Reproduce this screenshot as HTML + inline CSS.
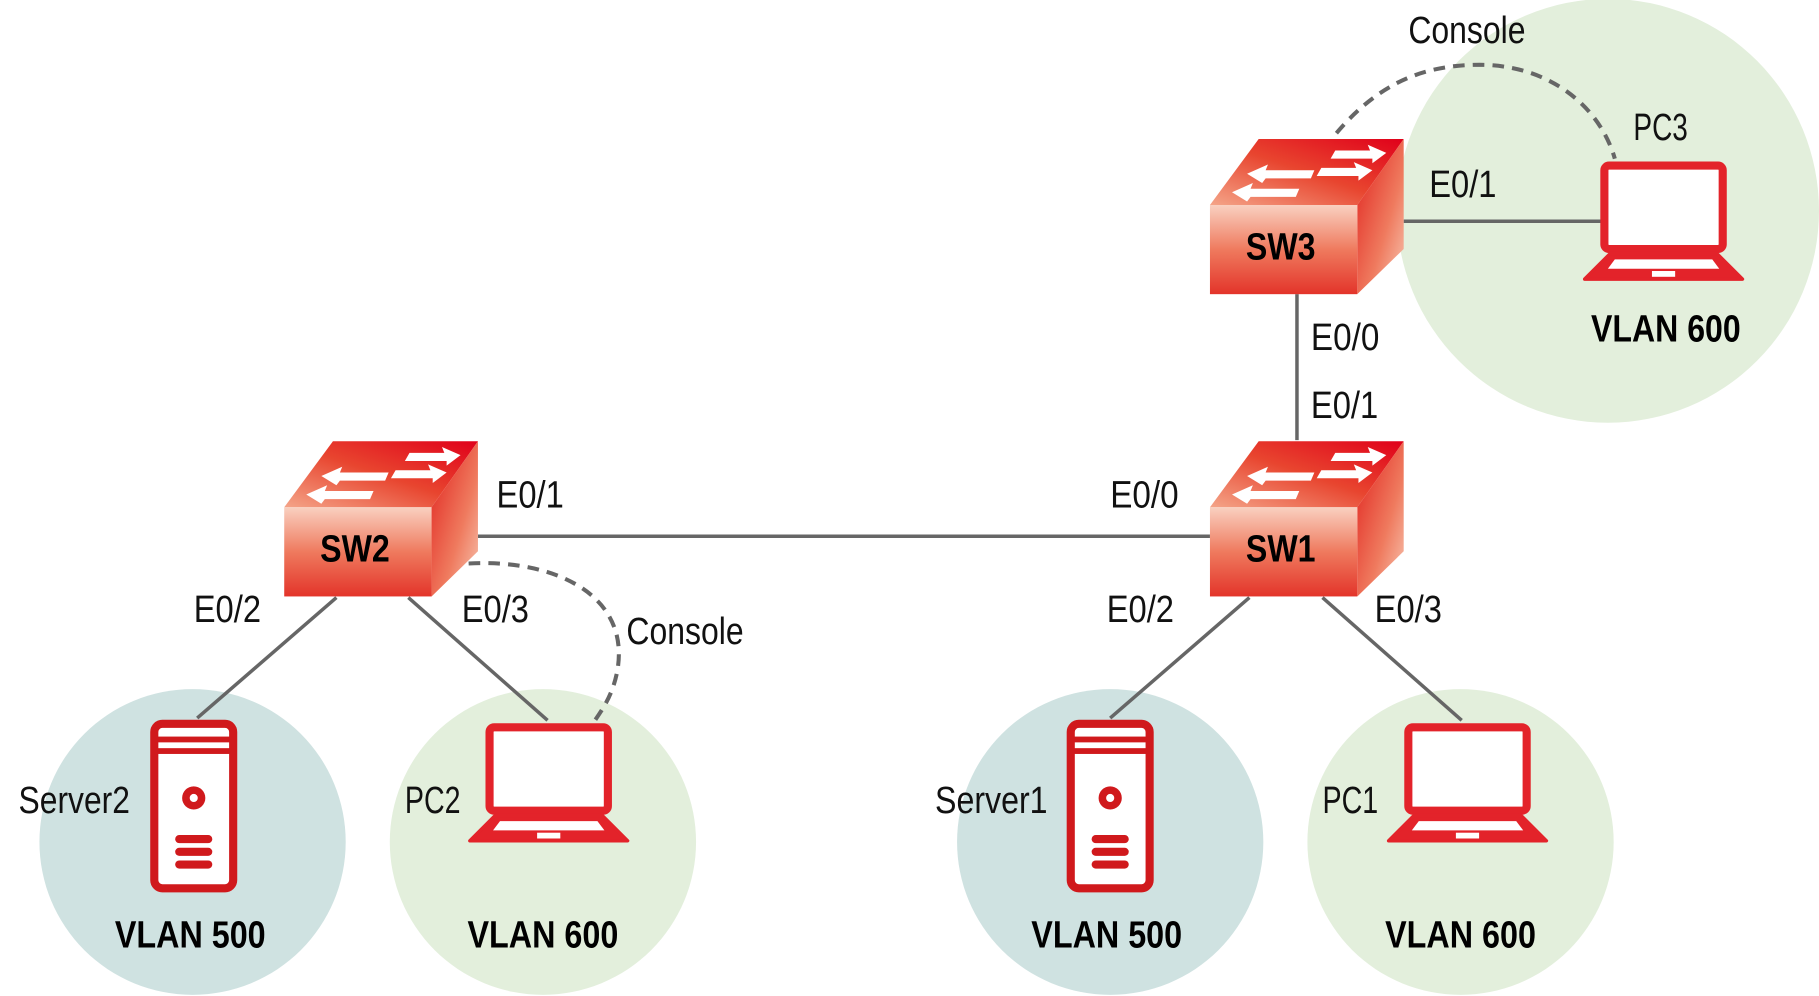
<!DOCTYPE html>
<html><head><meta charset="utf-8"><style>
html,body{margin:0;padding:0;background:#fff}
svg{display:block}
text{font-family:"Liberation Sans Narrow","Liberation Sans",sans-serif}
.l{font-size:33px;fill:#111}
.b{font-size:33px;font-weight:bold;fill:#000;text-anchor:middle}
</style></head><body>
<svg width="1819" height="996" viewBox="0 0 1568 860" preserveAspectRatio="none" xmlns="http://www.w3.org/2000/svg">
<defs>
<linearGradient id="front" x1="0" y1="0" x2="0" y2="1"><stop offset="0" stop-color="#f9d0c0"/><stop offset="0.5" stop-color="#ef7a5e"/><stop offset="1" stop-color="#e3342a"/></linearGradient>
<linearGradient id="top" x1="0" y1="1" x2="1" y2="0"><stop offset="0" stop-color="#f4a488"/><stop offset="0.5" stop-color="#e8452f"/><stop offset="1" stop-color="#e0001a"/></linearGradient>
<linearGradient id="side" x1="0" y1="0" x2="1" y2="1"><stop offset="0" stop-color="#e0201c"/><stop offset="0.6" stop-color="#ef7a5e"/><stop offset="1" stop-color="#f8c8b4"/></linearGradient>
<g id="sw">
<polygon points="0,0 42,-57 167,-57 127,0" fill="url(#top)"/>
<polygon points="127,0 167,-57 167,38 127,77" fill="url(#side)"/>
<rect x="0" y="0" width="127" height="77" fill="url(#front)"/>
<g fill="#fff">
<polygon points="48,-30 90,-30 87,-23 48,-23 45,-19 32,-27 50,-35"/>
<polygon points="35,-14 77,-14 74,-7 35,-7 32,-3 19,-11 37,-19"/>
<polygon points="108,-47 138,-47 136,-52 152,-45 140,-36 140,-40 104,-40"/>
<polygon points="96,-32 126,-32 124,-37 140,-30 128,-21 128,-25 92,-25"/>
</g>
</g>
<g id="lap">
<rect x="3" y="3" width="102" height="72" rx="4" fill="#fff" stroke="#e3232a" stroke-width="7"/>
<polygon points="8,79 100,79 122,101 -14,101" fill="#e3232a" stroke="#e3232a" stroke-width="3" stroke-linejoin="round"/>
<polygon points="12,84 96,84 102,92 6,92" fill="#fff"/>
<rect x="44" y="94" width="20" height="5" fill="#fff"/>
</g>
<g id="srv">
<rect x="3" y="3" width="68" height="142" rx="7" fill="#fff" stroke="#d0191c" stroke-width="7"/>
<rect x="6" y="14" width="62" height="5" fill="#d0191c"/>
<rect x="6" y="24" width="62" height="5" fill="#d0191c"/>
<circle cx="37" cy="67" r="10" fill="#d0191c"/><circle cx="37" cy="67" r="3.5" fill="#fff"/>
<rect x="21" y="99" width="32" height="7" rx="3.5" fill="#d0191c"/>
<rect x="21" y="110" width="32" height="7" rx="3.5" fill="#d0191c"/>
<rect x="21" y="121" width="32" height="7" rx="3.5" fill="#d0191c"/>
</g>
</defs>
<ellipse cx="1386" cy="182" rx="182" ry="183" fill="#e3efdc"/>
<ellipse cx="166" cy="727" rx="132" ry="132" fill="#cfe2e1"/>
<ellipse cx="468" cy="727" rx="132" ry="132" fill="#e3efdc"/>
<ellipse cx="957" cy="727" rx="132" ry="132" fill="#cfe2e1"/>
<ellipse cx="1259" cy="727" rx="132" ry="132" fill="#e3efdc"/>
<g stroke="#666" stroke-width="3" fill="none">
<line x1="412" y1="463" x2="1043" y2="463"/>
<line x1="1118" y1="254" x2="1118" y2="380"/>
<line x1="1210" y1="191" x2="1380" y2="191"/>
<line x1="290" y1="516" x2="170" y2="620"/>
<line x1="352" y1="516" x2="472" y2="622"/>
<line x1="1077" y1="516" x2="957" y2="620"/>
<line x1="1140" y1="516" x2="1260" y2="622"/>
</g>
<g stroke="#666" stroke-width="3.5" fill="none" stroke-dasharray="10,7">
<path d="M387,488 C470,478 545,510 532,580 C528,600 520,612 510,626"/>
<path d="M1152,115 C1190,70 1230,55 1280,56 C1340,58 1380,95 1392,137"/>
</g>
<use href="#sw" x="1043" y="177"/>
<use href="#sw" x="1043" y="438"/>
<use href="#sw" x="245" y="438"/>
<use href="#lap" x="1380" y="140"/>
<use href="#lap" x="419" y="625"/>
<use href="#lap" x="1211" y="625"/>
<use href="#srv" x="130" y="622"/>
<use href="#srv" x="920" y="622"/>
<text class="b" x="1104" y="224" textLength="60" lengthAdjust="spacingAndGlyphs">SW3</text>
<text class="b" x="1104" y="485" textLength="60" lengthAdjust="spacingAndGlyphs">SW1</text>
<text class="b" x="306" y="485" textLength="60" lengthAdjust="spacingAndGlyphs">SW2</text>
<text class="l" x="1214" y="37" textLength="101" lengthAdjust="spacingAndGlyphs">Console</text>
<text class="l" x="1408" y="121" textLength="47" lengthAdjust="spacingAndGlyphs">PC3</text>
<text class="l" x="1232" y="170" textLength="58" lengthAdjust="spacingAndGlyphs">E0/1</text>
<text class="l" x="1130" y="302" textLength="59" lengthAdjust="spacingAndGlyphs">E0/0</text>
<text class="l" x="1130" y="361" textLength="58" lengthAdjust="spacingAndGlyphs">E0/1</text>
<text class="l" x="428" y="438" textLength="58" lengthAdjust="spacingAndGlyphs">E0/1</text>
<text class="l" x="957" y="438" textLength="59" lengthAdjust="spacingAndGlyphs">E0/0</text>
<text class="l" x="167" y="537" textLength="58" lengthAdjust="spacingAndGlyphs">E0/2</text>
<text class="l" x="398" y="537" textLength="58" lengthAdjust="spacingAndGlyphs">E0/3</text>
<text class="l" x="540" y="556" textLength="101" lengthAdjust="spacingAndGlyphs">Console</text>
<text class="l" x="954" y="537" textLength="58" lengthAdjust="spacingAndGlyphs">E0/2</text>
<text class="l" x="1185" y="537" textLength="58" lengthAdjust="spacingAndGlyphs">E0/3</text>
<text class="l" x="16" y="702" textLength="96" lengthAdjust="spacingAndGlyphs">Server2</text>
<text class="l" x="349" y="702" textLength="48" lengthAdjust="spacingAndGlyphs">PC2</text>
<text class="l" x="806" y="702" textLength="97" lengthAdjust="spacingAndGlyphs">Server1</text>
<text class="l" x="1140" y="702" textLength="48" lengthAdjust="spacingAndGlyphs">PC1</text>
<text class="b" x="1436" y="295" textLength="129" lengthAdjust="spacingAndGlyphs">VLAN 600</text>
<text class="b" x="164" y="818" textLength="130" lengthAdjust="spacingAndGlyphs">VLAN 500</text>
<text class="b" x="468" y="818" textLength="130" lengthAdjust="spacingAndGlyphs">VLAN 600</text>
<text class="b" x="954" y="818" textLength="130" lengthAdjust="spacingAndGlyphs">VLAN 500</text>
<text class="b" x="1259" y="818" textLength="130" lengthAdjust="spacingAndGlyphs">VLAN 600</text>
</svg>
</body></html>
